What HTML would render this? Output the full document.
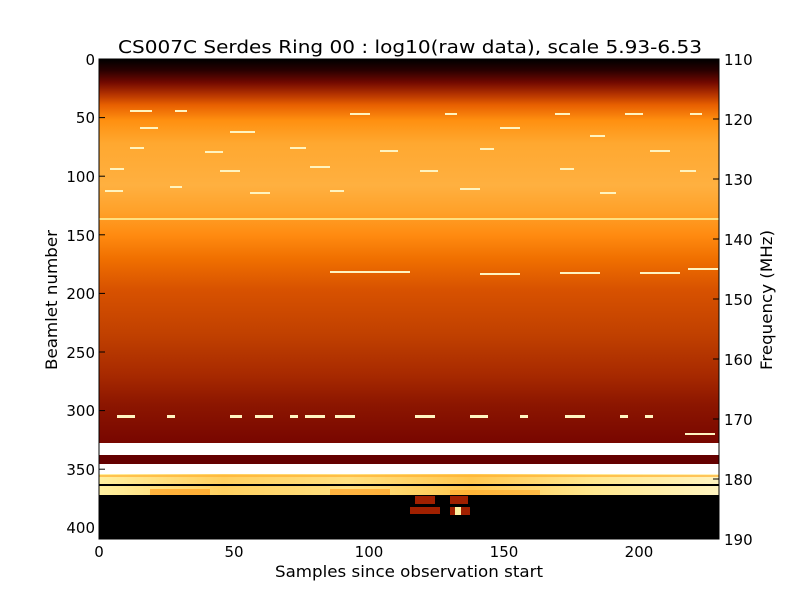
<!DOCTYPE html>
<html><head><style>
body{margin:0;background:#fff;}
svg text{font-family:"DejaVu Sans","Liberation Sans",sans-serif;}
</style></head><body>
<svg width="800" height="600" xmlns="http://www.w3.org/2000/svg">
<defs>
<linearGradient id="g" x1="0" y1="59" x2="0" y2="443" gradientUnits="userSpaceOnUse">
<stop offset="0" stop-color="#000000"/>
<stop offset="0.03" stop-color="#2a0000"/>
<stop offset="0.06" stop-color="#700800"/>
<stop offset="0.09" stop-color="#b03000"/>
<stop offset="0.12" stop-color="#e86000"/>
<stop offset="0.16" stop-color="#ff9010"/>
<stop offset="0.22" stop-color="#ffa830"/>
<stop offset="0.33" stop-color="#ffb040"/>
<stop offset="0.40" stop-color="#ffa028"/>
<stop offset="0.46" stop-color="#ff8a10"/>
<stop offset="0.52" stop-color="#f07000"/>
<stop offset="0.60" stop-color="#d85200"/>
<stop offset="0.72" stop-color="#c04000"/>
<stop offset="0.82" stop-color="#a82a00"/>
<stop offset="0.90" stop-color="#8c1600"/>
<stop offset="1" stop-color="#780600"/>
</linearGradient>
<linearGradient id="y" x1="0" y1="0" x2="1" y2="0">
<stop offset="0" stop-color="#fff0a0"/>
<stop offset="0.2" stop-color="#ffd060"/>
<stop offset="0.4" stop-color="#ffe080"/>
<stop offset="0.6" stop-color="#ffc850"/>
<stop offset="0.8" stop-color="#ffe890"/>
<stop offset="1" stop-color="#fff4c0"/>
</linearGradient>
</defs>
<text x="410" y="53" font-size="18" text-anchor="middle" textLength="584" lengthAdjust="spacingAndGlyphs">CS007C Serdes Ring 00 : log10(raw data), scale 5.93-6.53</text>
<rect x="99" y="59" width="620" height="384" fill="url(#g)"/>
<g fill="#fff4c0">
<rect x="130" y="110" width="22" height="2"/><rect x="175" y="110" width="12" height="2"/><rect x="350" y="113" width="20" height="2"/><rect x="445" y="113" width="12" height="2"/><rect x="555" y="113" width="15" height="2"/><rect x="625" y="113" width="18" height="2"/><rect x="690" y="113" width="12" height="2"/>
<rect x="140" y="127" width="18" height="2"/><rect x="230" y="131" width="25" height="2"/><rect x="500" y="127" width="20" height="2"/><rect x="590" y="135" width="15" height="2"/>
<rect x="130" y="147" width="14" height="2"/><rect x="205" y="151" width="18" height="2"/><rect x="290" y="147" width="16" height="2"/><rect x="380" y="150" width="18" height="2"/><rect x="480" y="148" width="14" height="2"/><rect x="650" y="150" width="20" height="2"/>
<rect x="110" y="168" width="14" height="2"/><rect x="220" y="170" width="20" height="2"/><rect x="310" y="166" width="20" height="2"/><rect x="420" y="170" width="18" height="2"/><rect x="560" y="168" width="14" height="2"/><rect x="680" y="170" width="16" height="2"/>
<rect x="105" y="190" width="18" height="2"/><rect x="170" y="186" width="12" height="2"/><rect x="250" y="192" width="20" height="2"/><rect x="330" y="190" width="14" height="2"/><rect x="460" y="188" width="20" height="2"/><rect x="600" y="192" width="16" height="2"/>
<rect x="99" y="218" width="620" height="2" fill="#ffe080"/>
<rect x="330" y="271" width="80" height="2"/><rect x="480" y="273" width="40" height="2"/><rect x="560" y="272" width="40" height="2"/><rect x="640" y="272" width="40" height="2"/><rect x="688" y="268" width="30" height="2"/>
<rect x="117" y="415" width="18" height="3"/><rect x="167" y="415" width="8" height="3"/><rect x="230" y="415" width="12" height="3"/><rect x="255" y="415" width="18" height="3"/><rect x="290" y="415" width="8" height="3"/><rect x="305" y="415" width="20" height="3"/><rect x="335" y="415" width="20" height="3"/><rect x="415" y="415" width="20" height="3"/><rect x="470" y="415" width="18" height="3"/><rect x="520" y="415" width="8" height="3"/><rect x="565" y="415" width="20" height="3"/><rect x="620" y="415" width="8" height="3"/><rect x="645" y="415" width="8" height="3"/><rect x="685" y="433" width="30" height="2"/>
</g>
<rect x="99" y="443" width="620" height="12" fill="#fff"/>
<rect x="99" y="455" width="620" height="9" fill="#640000"/>
<rect x="99" y="464" width="620" height="11" fill="#fff"/>
<rect x="99" y="474" width="620" height="10" fill="url(#y)"/>
<rect x="99" y="475" width="620" height="2" fill="#ffb030" opacity="0.7"/>
<rect x="99" y="484" width="620" height="2" fill="#000"/>
<rect x="99" y="486" width="620" height="10" fill="url(#y)"/>
<rect x="150" y="489" width="60" height="6" fill="#ffa020" opacity="0.7"/><rect x="330" y="489" width="60" height="6" fill="#ff9818" opacity="0.6"/><rect x="450" y="490" width="90" height="5" fill="#ffa828" opacity="0.6"/>
<rect x="99" y="495" width="620" height="44" fill="#000"/>
<g fill="#a02000"><rect x="415" y="496" width="20" height="8"/><rect x="410" y="507" width="30" height="7"/><rect x="450" y="496" width="18" height="8"/><rect x="450" y="507" width="20" height="8"/></g>
<rect x="455" y="507" width="6" height="8" fill="#fff0a0"/>
<rect x="99" y="59" width="620" height="480" fill="none" stroke="#000" stroke-width="1"/>
<g stroke="#000" stroke-width="1">
<line x1="99" y1="59" x2="105" y2="59"/><line x1="99" y1="117.6" x2="105" y2="117.6"/><line x1="99" y1="176.2" x2="105" y2="176.2"/><line x1="99" y1="234.8" x2="105" y2="234.8"/><line x1="99" y1="293.4" x2="105" y2="293.4"/><line x1="99" y1="352" x2="105" y2="352"/><line x1="99" y1="410.6" x2="105" y2="410.6"/><line x1="99" y1="469.2" x2="105" y2="469.2"/><line x1="99" y1="527.8" x2="105" y2="527.8"/>
<line x1="719" y1="119" x2="713" y2="119"/><line x1="719" y1="179" x2="713" y2="179"/><line x1="719" y1="239" x2="713" y2="239"/><line x1="719" y1="299" x2="713" y2="299"/><line x1="719" y1="359" x2="713" y2="359"/><line x1="719" y1="419" x2="713" y2="419"/><line x1="719" y1="479" x2="713" y2="479"/>
<line x1="234" y1="539" x2="234" y2="533"/><line x1="369" y1="539" x2="369" y2="533"/><line x1="504" y1="539" x2="504" y2="533"/><line x1="639" y1="539" x2="639" y2="533"/>
</g>
<g font-size="15" text-anchor="end">
<text x="95" y="65">0</text><text x="95" y="123">50</text><text x="95" y="182">100</text><text x="95" y="241">150</text><text x="95" y="299">200</text><text x="95" y="358">250</text><text x="95" y="416">300</text><text x="95" y="475">350</text><text x="95" y="533">400</text>
</g>
<g font-size="15">
<text x="724" y="65">110</text><text x="724" y="125">120</text><text x="724" y="185">130</text><text x="724" y="245">140</text><text x="724" y="305">150</text><text x="724" y="365">160</text><text x="724" y="425">170</text><text x="724" y="485">180</text><text x="724" y="545">190</text>
</g>
<g font-size="15" text-anchor="middle">
<text x="99" y="557">0</text><text x="234" y="557">50</text><text x="369" y="557">100</text><text x="504" y="557">150</text><text x="639" y="557">200</text>
</g>
<g font-size="16" text-anchor="middle">
<text x="409" y="577" textLength="268" lengthAdjust="spacingAndGlyphs">Samples since observation start</text>
<text transform="translate(57,300) rotate(-90)" textLength="140" lengthAdjust="spacingAndGlyphs">Beamlet number</text>
<text transform="translate(772,300) rotate(-90)" textLength="140" lengthAdjust="spacingAndGlyphs">Frequency (MHz)</text>
</g>
</svg>
</body></html>
